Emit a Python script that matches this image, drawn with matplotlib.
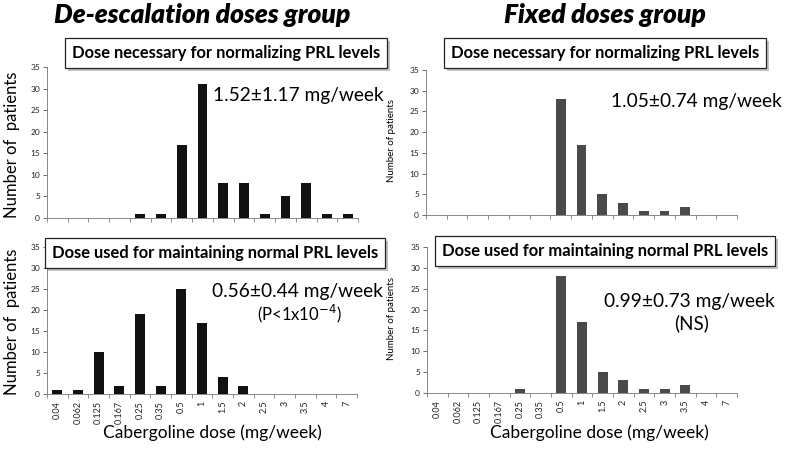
import matplotlib
matplotlib.use("Agg")
import matplotlib.pyplot as plt
import matplotlib.patheffects as pe
import numpy as np

plt.rcParams['font.family'] = ['Lato', 'DejaVu Sans']

categories = ["0.04", "0.062", "0.125", "0.167", "0.25", "0.35", "0.5", "1",
              "1.5", "2", "2.5", "3", "3.5", "4", "7"]
deesc_normalizing = [0, 0, 0, 0, 1, 1, 17, 31, 8, 8, 1, 5, 8, 1, 1]
deesc_maintaining = [1, 1, 10, 2, 19, 2, 25, 17, 4, 2, 0, 0, 0, 0, 0]
fixed_normalizing = [0, 0, 0, 0, 0, 0, 28, 17, 5, 3, 1, 1, 2, 0, 0]
fixed_maintaining = [0, 0, 0, 0, 1, 0, 28, 17, 5, 3, 1, 1, 2, 0, 0]

W, H = 789, 451
fig = plt.figure(figsize=(W / 100, H / 100), dpi=100)


def ax_px(x0, y0, x1, y1):
    return fig.add_axes([x0 / W, 1 - y1 / H, (x1 - x0) / W, (y1 - y0) / H])


def style(ax, vals, color, show_labels):
    x = np.arange(len(categories))
    ax.bar(x, vals, width=0.47, color=color, zorder=3)
    ax.set_xlim(-0.5, len(categories) - 0.5)
    ax.set_ylim(0, 35)
    ax.set_yticks(range(0, 36, 5))
    ax.tick_params(axis='y', labelsize=6, colors='#555555', length=3, width=0.6, pad=2)
    ax.tick_params(axis='y', labelcolor='#222222')
    ax.set_xticks(np.arange(-0.5, len(categories), 1.0), minor=False)
    ax.set_xticklabels([])
    ax.set_xticks(x, minor=True)
    ax.tick_params(axis='x', which='major', length=3, width=0.6, colors='#777777')
    ax.tick_params(axis='x', which='minor', length=0, labelsize=6.5,
                   labelcolor='#222222', pad=5)
    if show_labels:
        ax.set_xticklabels(categories, minor=True, rotation=90)
    for s in ['top', 'right']:
        ax.spines[s].set_visible(False)
    for s in ['left', 'bottom']:
        ax.spines[s].set_color('#888888')
        ax.spines[s].set_linewidth(0.7)
    ax.patch.set_alpha(0)


ax1 = ax_px(47, 67, 358, 218)
style(ax1, deesc_normalizing, '#111111', False)
ax2 = ax_px(426, 70, 737, 215)
style(ax2, fixed_normalizing, '#4a4a4a', False)
ax3 = ax_px(47, 247, 357, 394)
style(ax3, deesc_maintaining, '#111111', True)
ax4 = ax_px(427, 247, 737, 393)
style(ax4, fixed_maintaining, '#4a4a4a', True)


def ftext(x, y, s, **kw):
    return fig.text(x / W, 1 - y / H, s, **kw)


# group titles
ftext(202, 15, "De-escalation doses group", fontsize=19, fontweight='heavy',
      fontstyle='italic', ha='center', va='center')
ftext(605, 15, "Fixed doses group", fontsize=19, fontweight='heavy',
      fontstyle='italic', ha='center', va='center')

shadow = [pe.withSimplePatchShadow(offset=(2, -2), shadow_rgbFace='#999999', alpha=0.6)]


def boxtitle(x, y, s):
    t = ftext(x, y, s, fontsize=11.9, fontweight='bold', ha='center', va='center',
              bbox=dict(boxstyle='square,pad=0.42', fc='white', ec='#222222', lw=0.9))
    t.get_bbox_patch().set_path_effects(shadow)
    return t


boxtitle(226, 53, "Dose necessary for normalizing PRL levels")
boxtitle(605, 53, "Dose necessary for normalizing PRL levels")
boxtitle(215, 253, "Dose used for maintaining normal PRL levels")
boxtitle(605, 251, "Dose used for maintaining normal PRL levels")

# stats
ftext(298, 95, "1.52\u00b11.17 mg/week", fontsize=13.8, ha='center', va='center')
ftext(696, 102, "1.05\u00b10.74 mg/week", fontsize=13.8, ha='center', va='center')
ftext(297, 292, "0.56\u00b10.44 mg/week", fontsize=13.8, ha='center', va='center')
ftext(299, 314, "(P<1x10$^{-4}$)", fontsize=12, ha='center', va='center')
ftext(689, 302, "0.99\u00b10.73 mg/week", fontsize=13.8, ha='center', va='center')
ftext(692, 323, "(NS)", fontsize=13.5, ha='center', va='center')

# y labels
ftext(12, 145, "Number of  patients", fontsize=12, rotation=90, ha='center', va='center')
ftext(12, 322, "Number of  patients", fontsize=12, rotation=90, ha='center', va='center')
ftext(392, 140, "Number of patients", fontsize=7, rotation=90, ha='center', va='center')
ftext(392, 318, "Number of patients", fontsize=7, rotation=90, ha='center', va='center')

# x labels
ftext(212, 433, "Cabergoline dose (mg/week)", fontsize=12.5, ha='center', va='center')
ftext(599, 433, "Cabergoline dose (mg/week)", fontsize=12.5, ha='center', va='center')

fig.savefig("out.png", dpi=100)
